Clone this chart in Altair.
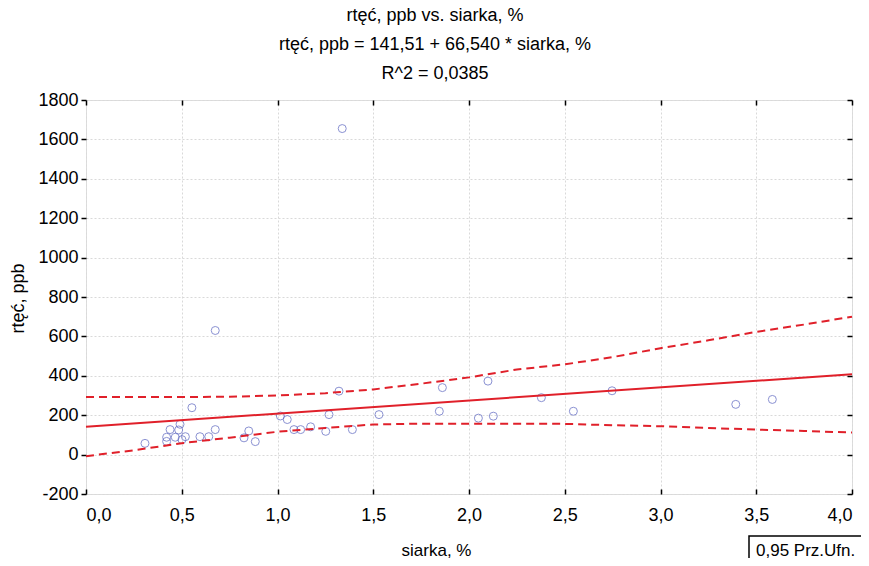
import altair as alt
import pandas as pd

# ---- data ----
sulfur = [0.308, 0.553, 0.421, 0.421, 0.439, 0.484, 0.491, 0.466, 0.519, 0.501,
          0.595, 0.641, 0.675, 0.850, 0.825, 0.884, 1.015, 1.051, 1.086, 1.121,
          1.173, 1.252, 1.269, 1.321, 1.391, 1.530, 1.845, 1.861, 2.049, 2.099,
          2.127, 2.378, 2.545, 2.747, 3.393, 3.584, 1.338, 0.675]
mercury = [57, 238, 88, 67, 127, 125, 154, 88, 91, 76,
           91, 91, 127, 120, 85, 66, 196, 178, 127, 127,
           141, 118, 203, 322, 127, 203, 220, 340, 185, 373,
           195, 289, 220, 324, 255, 280, 1655, 630]

fit_x = [0.0, 4.0]
fit_y = [141.51, 407.67]

band_x = [0, 0.25, 0.5, 0.75, 1.0, 1.25, 1.5, 1.75, 2.0, 2.25, 2.5, 2.75,
          3.0, 3.25, 3.5, 3.75, 4.0]
band_upper = [293, 292, 292, 294, 300, 312, 331, 360, 392, 432, 458, 495,
              540, 580, 623, 660, 700]
band_lower = [-8, 22, 58, 86, 116, 135, 153, 157, 157, 157, 156, 149,
              144, 135, 127, 120, 112]

x_ticks = [0, 0.5, 1.0, 1.5, 2.0, 2.5, 3.0, 3.5, 4.0]
y_ticks = [-200, 0, 200, 400, 600, 800, 1000, 1200, 1400, 1600, 1800]

title_lines = ["rtęć, ppb vs. siarka, %",
               "rtęć, ppb = 141,51 + 66,540 * siarka, %",
               "R^2 = 0,0385"]
x_title = "siarka, %"
y_title = "rtęć, ppb"
legend_text = "0,95 Prz.Ufn."

FONT = "Liberation Sans"
RED = "#e0202a"
W, H = 766, 394

pts = pd.DataFrame({"x": sulfur, "y": mercury})
fit = pd.DataFrame({"x": fit_x, "y": fit_y})
band = pd.concat([
    pd.DataFrame({"x": band_x, "y": band_upper, "s": "upper"}),
    pd.DataFrame({"x": band_x, "y": band_lower, "s": "lower"}),
])

xscale = alt.Scale(domain=[0, 4], nice=False, zero=False)
yscale = alt.Scale(domain=[-200, 1800], nice=False, zero=False)

x_axis = alt.Axis(
    values=x_ticks, title=x_title, offset=-5, tickSize=5, tickWidth=1.5,
    tickColor="black", domain=False, grid=True, gridColor="#d9d9d9",
    gridDash=[2, 2], gridWidth=1, labelFont=FONT, labelFontSize=18,
    labelColor="black", labelPadding=12,
    labelExpr="replace(format(datum.value, '.1f'), '.', ',')",
    titleFont=FONT, titleFontSize=17, titleFontWeight="normal",
    titleColor="black", titleX=350, titleY=66, titleAnchor="start",
    titleAlign="center", titleBaseline="alphabetic",
)
y_axis = alt.Axis(
    values=y_ticks, title=y_title, tickSize=5, tickWidth=1.5,
    tickColor="black", domain=False, grid=True, gridColor="#d9d9d9",
    gridDash=[2, 2], gridWidth=1, labelFont=FONT, labelFontSize=18,
    labelColor="black", labelPadding=3, labelExpr="'' + datum.value",
    titleFont=FONT, titleFontSize=18, titleFontWeight="normal",
    titleColor="black", titleX=-63, titleY=198, titleAngle=270,
    titleAlign="center", titleBaseline="alphabetic",
)

points = alt.Chart(pts).mark_point(
    shape="circle", filled=False, size=64, strokeWidth=1, color="#5a64c0"
).encode(x=alt.X("x:Q", scale=xscale, axis=x_axis),
         y=alt.Y("y:Q", scale=yscale, axis=y_axis))

fit_line = alt.Chart(fit).mark_line(color=RED, strokeWidth=2).encode(
    x=alt.X("x:Q", scale=xscale, axis=None),
    y=alt.Y("y:Q", scale=yscale, axis=None))

band_lines = alt.Chart(band).mark_line(
    color=RED, strokeWidth=2, strokeDash=[8, 5]
).encode(x=alt.X("x:Q", scale=xscale, axis=None),
         y=alt.Y("y:Q", scale=yscale, axis=None),
         detail="s:N")

# inward ticks on top and right
edge_ticks = alt.Chart(pts).mark_point(opacity=0).encode(
    x=alt.X("x:Q", scale=xscale, axis=alt.Axis(
        orient="top", values=x_ticks, offset=-5, tickSize=5, tickWidth=1.5,
        tickColor="black", labels=False, domain=False, grid=False, title=None)),
    y=alt.Y("y:Q", scale=yscale, axis=alt.Axis(
        orient="right", values=y_ticks, offset=-5, tickSize=5, tickWidth=1.5,
        tickColor="black", labels=False, domain=False, grid=False, title=None)),
)

leg_df = pd.DataFrame({"t": [legend_text]})
leg_box = alt.Chart(leg_df).mark_rect(
    fill="white", stroke="black", strokeWidth=1.5
).encode(x=alt.value(663), x2=alt.value(900), y=alt.value(436),
         y2=alt.value(490))
leg_txt = alt.Chart(leg_df).mark_text(
    align="left", baseline="middle", font=FONT, fontSize=17, color="black"
).encode(x=alt.value(670), y=alt.value(451), text="t:N")

chart = alt.layer(
    points, band_lines, fit_line, edge_ticks, leg_box, leg_txt
).resolve_axis(x="independent", y="independent").properties(
    width=W, height=H,
    title=alt.TitleParams(
        text=title_lines, font=FONT, fontSize=18, fontWeight="normal",
        color="black", lineHeight=29, anchor="middle", dx=-34, offset=8,
    ),
    autosize=alt.AutoSizeParams(type="none"),
    padding={"left": 78, "top": 92, "right": 9, "bottom": 64},
).configure_view(stroke="black", strokeWidth=2).configure(background="white")

chart.save("out.html", embed_options={"renderer": "svg", "actions": False})
